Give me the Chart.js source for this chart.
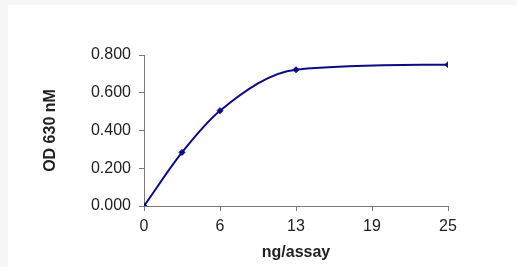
<!DOCTYPE html>
<html>
<head>
<meta charset="utf-8">
<script src="https://cdn.jsdelivr.net/npm/chart.js@4/dist/chart.umd.min.js"></script>
<style>
  html, body { margin: 0; padding: 0; background: #f7f7f7; }
  #wrap { position: absolute; left: 8px; top: 5px; width: 509px; height: 262px; background: #fff; }
  canvas { display: block; }
</style>
</head>
<body>
<div id="wrap"><canvas id="chart" width="509" height="262"></canvas></div>
<script>
// ng/assay vs OD reading
const doseValues = [0, 3.125, 6.25, 12.5, 25];
const odValues = [0.000, 0.284, 0.505, 0.722, 0.749];
const xTickValues = [0, 6.25, 12.5, 18.75, 25];
const yTickValues = [0, 0.2, 0.4, 0.6, 0.8];

const navy = '#0c0c82';
const axisColor = '#7a7a7a';
const textColor = '#222';
const fontFamily = '"Liberation Sans", Arial, sans-serif';

const points = doseValues.map((x, i) => ({ x: x, y: odValues[i] }));

new Chart(document.getElementById('chart').getContext('2d'), {
  type: 'line',
  data: {
    datasets: [{
      data: points,
      borderColor: navy,
      backgroundColor: navy,
      borderWidth: 2,
      pointStyle: 'rectRot',
      pointRadius: 3,
      pointBorderWidth: 1,
      cubicInterpolationMode: 'monotone',
      fill: false
    }]
  },
  options: {
    responsive: false,
    animation: false,
    layout: { padding: { left: 32, right: 69, top: 50, bottom: 0 } },
    plugins: { legend: { display: false }, tooltip: { enabled: false } },
    scales: {
      x: {
        type: 'linear',
        min: 0, max: 25,
        afterBuildTicks: (scale) => { scale.ticks = xTickValues.map(v => ({ value: v })); },
        afterFit: (scale) => { scale.height = 61; },
        ticks: {
          color: textColor,
          font: { family: fontFamily, size: 16 },
          padding: 6,
          maxRotation: 0,
          callback: (v) => Math.round(v)
        },
        grid: { drawOnChartArea: false, drawTicks: true, tickLength: 5, color: axisColor },
        border: { color: axisColor, width: 1 },
        title: {
          display: true, text: 'ng/assay', color: textColor,
          font: { family: fontFamily, size: 16, weight: 'bold' },
          padding: { top: 0, bottom: 5 }
        }
      },
      y: {
        min: 0, max: 0.8,
        afterBuildTicks: (scale) => { scale.ticks = yTickValues.map(v => ({ value: v })); },
        afterFit: (scale) => { scale.width = 104; },
        ticks: {
          color: textColor,
          font: { family: fontFamily, size: 16 },
          padding: 8,
          callback: (v) => v.toFixed(3)
        },
        grid: { drawOnChartArea: false, drawTicks: true, tickLength: 5, color: axisColor },
        border: { color: axisColor, width: 1 },
        title: {
          display: true, text: 'OD 630 nM', color: textColor,
          font: { family: fontFamily, size: 16, weight: 'bold' },
          padding: { top: 1, bottom: 0 }
        }
      }
    }
  }
});
</script>
</body>
</html>
